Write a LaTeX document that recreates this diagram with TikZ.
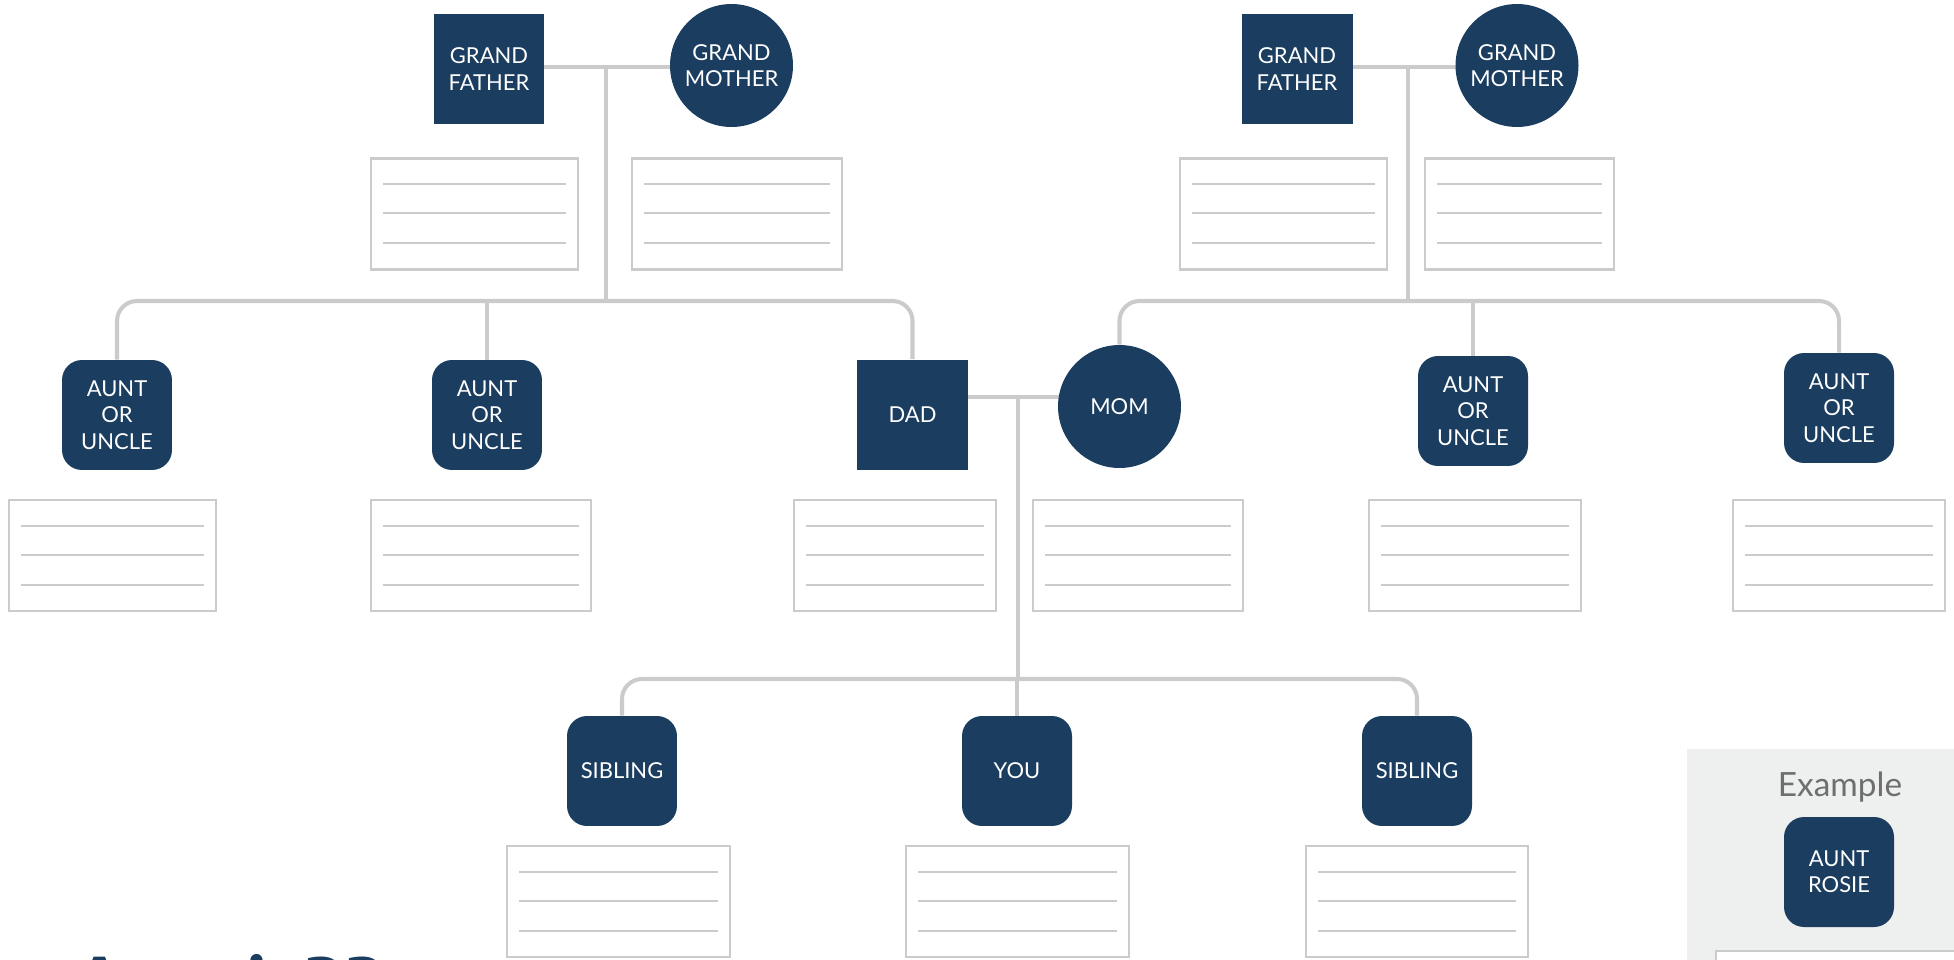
\documentclass[tikz,border=0pt]{standalone}
\usepackage{fontspec}
\setmainfont{Lato}
\newfontfamily\headfont{Liberation Serif}
\usetikzlibrary{positioning,calc,backgrounds}
\definecolor{navy}{HTML}{1A3D60}
\definecolor{linec}{HTML}{CBCBCB}
\definecolor{panelc}{HTML}{EEEFEF}
\definecolor{greyc}{HTML}{6E6E6E}

\tikzset{
  person/.style={fill=navy, text=white, inner sep=0pt, align=center,
    font=\fontsize{12.5}{15}\selectfont},
  male/.style={person, rectangle, minimum width=2.22cm, minimum height=2.22cm},
  female/.style={person, circle, minimum size=2.46cm},
  kin/.style={person, rectangle, rounded corners=0.4cm, minimum width=2.2cm, minimum height=2.2cm},
  card/.style={draw=linec, line width=1.4pt, fill=white, minimum height=2.22cm, inner sep=0pt},
  link/.style={draw=linec, line width=2.3pt},
  rule/.style={draw=linec, line width=1.1pt},
}

\begin{document}
\begin{tikzpicture}[x=0.02cm, y=-0.02cm]
\useasboundingbox (0,0) rectangle (1954,960);

% example panel sits in the lower right corner, behind its own box
\fill[panelc] (1687,749) rectangle (1960,965);

% ---- generation 1 : the two pairs of grandparents ----
\node[male]   (gf1) at (489,69)    {GRAND\\FATHER};
\node[female] (gm1) at (731.5,65.5) {GRAND\\MOTHER};
\node[male]   (gf2) at (1297,69)   {GRAND\\FATHER};
\node[female] (gm2) at (1517,65.5) {GRAND\\MOTHER};

% ---- generation 2 : aunts, uncles and the parents ----
\node[kin]    (au1) at (117,415)    {AUNT\\OR\\UNCLE};
\node[kin]    (au2) at (487,415)    {AUNT\\OR\\UNCLE};
\node[male]   (dad) at (912.5,415)  {DAD};
\node[female] (mom) at (1119.5,406.5) {MOM};
\node[kin]    (au3) at (1473,411)   {AUNT\\OR\\UNCLE};
\node[kin]    (au4) at (1839,408)   {AUNT\\OR\\UNCLE};

% ---- generation 3 : you and the siblings ----
\node[kin] (sib1) at (622,771)  {SIBLING};
\node[kin] (you)  at (1017,771) {YOU};
\node[kin] (sib2) at (1417,771) {SIBLING};

% ---- write-in cards, three ruled lines each ----
\foreach \n/\x/\y/\w in {cgf1/474.5/214/207, cgm1/737/214/210, cgf2/1283.5/214/207, cgm2/1519.5/214/189,
    cau1/112.5/555.5/207, cau2/481/555.5/220, cdad/895/555.5/202, cmom/1138/555.5/210,
    cau3/1475/555.5/212, cau4/1839/555.5/212,
    csib1/618.5/901.5/223, cyou/1017.5/901.5/223, csib2/1417/901.5/222}{
  \node[card, minimum width=\w*0.02cm] (\n) at (\x,\y) {};
  \foreach \d in {27,56,86}
    \draw[rule] ($(\n.north west)+(13,\d)$) -- ($(\n.north east)+(-13,\d)$);
}

% ---- example ----
\node[greyc, font=\fontsize{19}{22}\selectfont] (extitle) at (1840,787) {Example};
\node[kin] (rosie) at (1839,872) {AUNT\\ROSIE};
\node[card, minimum width=6cm, anchor=north west] (excard) at (1715,950) {};

% heading, cut by the lower edge
\node[navy, inner sep=0pt, anchor=base west, font=\headfont\bfseries\fontsize{46}{50}\selectfont]
  (title) at (70,1010) {Auntie??};

% ---- connectors ----
\coordinate (p1) at (606,67);
\coordinate (r1) at (606,301);
\coordinate (p2) at (1408,66.7);
\coordinate (r2) at (1408,301);
\coordinate (p3) at (1018,397);
\coordinate (r3) at (1018,679);
\begin{scope}[on background layer]
\draw[link] (gf1 |- p1) -- (gm1 |- p1);
\draw[link] (p1) -- (r1);
\draw[link, rounded corners=0.4cm] (au1.north) |- (r1) -| (dad.north);
\draw[link] (au2.north) -- (au2.north |- r1);

\draw[link] (gf2 |- p2) -- (gm2 |- p2);
\draw[link] (p2) -- (r2);
\draw[link, rounded corners=0.4cm] (mom.north) |- (r2) -| (au4.north);
\draw[link] (au3.north) -- (au3.north |- r2);

\draw[link] (dad |- p3) -- (mom |- p3);
\draw[link] (p3) -- (r3);
\draw[link, rounded corners=0.4cm] (sib1.north) |- (r3) -| (sib2.north);
\draw[link] (you.north) -- (you.north |- r3);
\end{scope}
\end{tikzpicture}
\end{document}
